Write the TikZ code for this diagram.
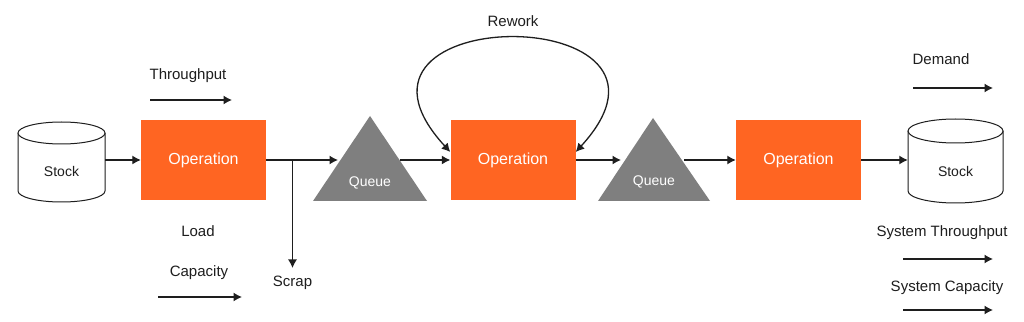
\documentclass[tikz,border=0pt]{standalone}
\usepackage{fontspec}
\setmainfont{Liberation Sans}
\usetikzlibrary{arrows.meta}
\definecolor{opor}{HTML}{FF6522}
\definecolor{qgray}{HTML}{7F7F7F}
\definecolor{ink}{HTML}{1E1E1E}
\begin{document}
\begin{tikzpicture}[x=1pt,y=1pt,
  conn/.style={draw=ink,line width=1.3pt,-{Latex[length=8.5pt,width=9pt]}},
  opbox/.style={fill=opor,draw=none,minimum width=125pt,minimum height=80pt,inner sep=0pt,text=white,font=\fontsize{16}{19}\selectfont},
  lbl/.style={text=ink,font=\fontsize{15}{18}\selectfont,inner sep=1pt},
  small/.style={font=\fontsize{14}{16}\selectfont,inner sep=1pt},
  cyl/.style={draw=ink,line width=1pt,fill=white},
  tri/.style={fill=qgray,draw=none},
  hold/.style={draw=none,inner sep=0pt}]
\useasboundingbox[fill=white] (0,0) rectangle (1024,321);
% cylinders
\path[cyl] (18,188) -- (18,130) arc (180:360:43.5 and 11) -- (105,188);
\path[cyl] (61.5,188) ellipse (43.5 and 11);
\path[cyl] (908,190) -- (908,130) arc (180:360:47.5 and 12) -- (1003,190);
\path[cyl] (955.5,190) ellipse (47.5 and 12);
\node[hold,minimum width=87pt,minimum height=76pt] (stock1) at (61.5,161) {};
\node[small,text=ink] (stock1t) at (61.5,150) {Stock};
\node[hold,minimum width=95pt,minimum height=76pt] (stock2) at (955.5,161) {};
\node[small,text=ink] (stock2t) at (955.5,150) {Stock};
% operations
\node[opbox] (op1) at (203.5,161) {Operation};
\node[opbox] (op2) at (513,161) {Operation};
\node[opbox] (op3) at (798.5,161) {Operation};
% queues
\path[tri] (313,120) -- (427,120) -- (370,205) -- cycle;
\path[tri] (598,120) -- (710,120) -- (653,203) -- cycle;
\node[small,text=white] (q1) at (370,138) {Queue};
\node[small,text=white] (q2) at (654,139) {Queue};
\coordinate (q1w) at (338,161);
\coordinate (q1e) at (400,161);
\coordinate (q2w) at (621,161);
\coordinate (q2e) at (684,161);
% main flow
\draw[conn] (stock1.east) -- (op1.west);
\draw[conn] (op1.east) -- (q1w);
\draw[conn] (q1e) -- (op2.west);
\draw[conn] (op2.east) -- (q2w);
\draw[conn] (q2e) -- (op3.west);
\draw[conn] (op3.east) -- (stock2.west);
% scrap
\node[lbl,anchor=north] (scrap) at (292.5,46) {Scrap};
\coordinate (split) at (292.5,161);
\draw[conn] (split) -- ([yshift=7pt]scrap.north);
% rework
\node[lbl] (rework) at (513,300) {Rework};
\draw[conn,{Latex[length=8.5pt,width=9pt]}-{Latex[length=8.5pt,width=9pt]}]
  ([yshift=8pt]op2.west) .. controls (310,321) and (715,321) .. ([yshift=8pt]op2.east);
% legend labels
\node[lbl] (thr) at (188,245) {Throughput};
\coordinate (thrA) at (150,221); \coordinate (thrB) at (232,221);
\draw[conn] (thrA) -- (thrB);
\node[lbl] (load) at (198,90) {Load};
\node[lbl] (cap) at (199,48) {Capacity};
\coordinate (capA) at (158,24); \coordinate (capB) at (242,24);
\draw[conn] (capA) -- (capB);
\node[lbl] (dem) at (941,262) {Demand};
\coordinate (demA) at (913,233); \coordinate (demB) at (993,233);
\draw[conn] (demA) -- (demB);
\node[lbl] (sthr) at (942,88) {System Throughput};
\coordinate (sthrA) at (903,62); \coordinate (sthrB) at (993,62);
\draw[conn] (sthrA) -- (sthrB);
\node[lbl] (scap) at (947,33) {System Capacity};
\coordinate (scapA) at (903,11); \coordinate (scapB) at (993,11);
\draw[conn] (scapA) -- (scapB);
\end{tikzpicture}
\end{document}
